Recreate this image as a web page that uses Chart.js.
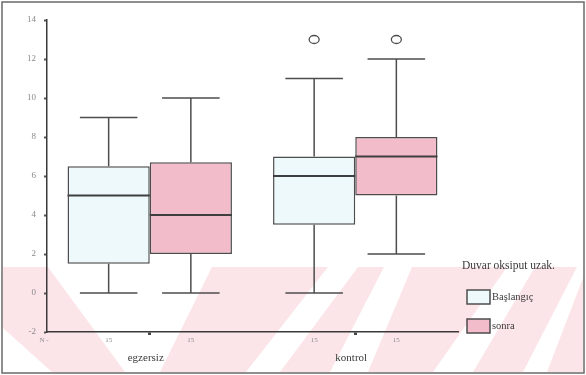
<!DOCTYPE html>
<html>
<head>
<meta charset="utf-8">
<script src="https://cdn.jsdelivr.net/npm/chart.js@4"></script>
<style>
  html, body { margin: 0; padding: 0; background: #ffffff; }
  #wrap { width: 586px; height: 375px; position: relative; }
</style>
</head>
<body>
<div id="wrap"><canvas id="c"></canvas></div>
<script>
// Groups and series
const categories = ['egzersiz', 'kontrol'];
const seriesNames = ['Başlangıç', 'sonra'];
const legendTitle = 'Duvar oksiput uzak.';

// Five-number summaries per group, plus outliers and group sizes
const baslangicMin = [0, 0];
const baslangicQ1 = [1.5, 3.5];
const baslangicMedian = [5, 6];
const baslangicQ3 = [6.5, 7];
const baslangicMax = [9, 11];
const baslangicOutliers = [[], [13]];
const baslangicN = [15, 15];

const sonraMin = [0, 2];
const sonraQ1 = [2, 5];
const sonraMedian = [4, 7];
const sonraQ3 = [6.7, 8];
const sonraMax = [10, 12];
const sonraOutliers = [[], [13]];
const sonraN = [15, 15];

// Value axis
const yMin = -2;
const yMax = 14;
const yStep = 2;

const SERIF = "'Liberation Serif', 'DejaVu Serif', serif";
const EDGE = '#4d4d4d';

function makeDataset(label, q1, q3, med, lo, hi, out, n, fill) {
  return {
    label: label,
    data: q1.map((v, i) => [v, q3[i]]),
    stats: { median: med, min: lo, max: hi, outliers: out, n: n },
    backgroundColor: fill,
    borderColor: EDGE,
    borderWidth: 1.5,
    borderSkipped: false,
    barPercentage: 1.0,
    categoryPercentage: 0.8
  };
}

// Faint striped backdrop along the bottom of the sheet, and the sheet frame
const backdrop = {
  id: 'backdrop',
  beforeDraw(chart) {
    const ctx = chart.ctx;
    ctx.save();
    ctx.fillStyle = '#ffffff';
    ctx.fillRect(0, 0, chart.width, chart.height);
    ctx.fillStyle = '#fce5e9';
    ctx.fillRect(3, 267, 580, 105);
    ctx.fillStyle = '#ffffff';
    const gaps = [
      [[3, 328], [3, 372], [52, 372]],
      [[48, 267], [212, 267], [160, 372], [125, 372]],
      [[328, 267], [358, 267], [280, 372], [246, 372]],
      [[384, 267], [412, 267], [368, 372], [330, 372]],
      [[507, 267], [535, 267], [473, 372], [433, 372]],
      [[577, 267], [583, 267], [583, 278], [547, 372], [523, 372]]
    ];
    gaps.forEach(p => {
      ctx.beginPath();
      ctx.moveTo(p[0][0], p[0][1]);
      for (let k = 1; k < p.length; k++) ctx.lineTo(p[k][0], p[k][1]);
      ctx.closePath();
      ctx.fill();
    });
    ctx.restore();
  },
  afterDraw(chart) {
    const ctx = chart.ctx;
    ctx.save();
    ctx.strokeStyle = '#6a6a6a';
    ctx.lineWidth = 1.5;
    ctx.strokeRect(2, 2, 582, 371);
    ctx.restore();
  }
};

// Whiskers, medians and outliers on top of the floating boxes
const boxParts = {
  id: 'boxParts',
  afterDatasetsDraw(chart) {
    const ctx = chart.ctx;
    const ys = chart.scales.y;
    ctx.save();
    ctx.strokeStyle = EDGE;
    chart.data.datasets.forEach((ds, di) => {
      const meta = chart.getDatasetMeta(di);
      meta.data.forEach((bar, i) => {
        const cx = bar.x;
        const w = bar.width;
        const half = w / 2;
        const cap = w * 0.35;
        const st = ds.stats;
        const pQ1 = ys.getPixelForValue(ds.data[i][0]);
        const pQ3 = ys.getPixelForValue(ds.data[i][1]);
        const pLo = ys.getPixelForValue(st.min[i]);
        const pHi = ys.getPixelForValue(st.max[i]);
        const pMed = ys.getPixelForValue(st.median[i]);
        ctx.lineWidth = 1.5;
        ctx.beginPath();
        ctx.moveTo(cx, pQ1); ctx.lineTo(cx, pLo);
        ctx.moveTo(cx - cap, pLo); ctx.lineTo(cx + cap, pLo);
        ctx.moveTo(cx, pQ3); ctx.lineTo(cx, pHi);
        ctx.moveTo(cx - cap, pHi); ctx.lineTo(cx + cap, pHi);
        ctx.stroke();
        ctx.lineWidth = 2.2;
        ctx.strokeStyle = '#3f3f3f';
        ctx.beginPath();
        ctx.moveTo(cx - half, pMed); ctx.lineTo(cx + half, pMed);
        ctx.stroke();
        ctx.strokeStyle = EDGE;
        ctx.lineWidth = 1.3;
        st.outliers[i].forEach(v => {
          const py = ys.getPixelForValue(v);
          ctx.beginPath();
          ctx.ellipse(cx, py, 5, 4, 0, 0, Math.PI * 2);
          ctx.stroke();
        });
      });
    });
    ctx.restore();
  },
  afterDraw(chart) {
    const ctx = chart.ctx;
    const area = chart.chartArea;
    ctx.save();
    // group sizes under each box
    ctx.fillStyle = '#8a8a8a';
    ctx.font = '7px ' + SERIF;
    ctx.textAlign = 'center';
    ctx.textBaseline = 'middle';
    ctx.fillText('N -', area.left - 3, area.bottom + 8);
    chart.data.datasets.forEach((ds, di) => {
      const meta = chart.getDatasetMeta(di);
      meta.data.forEach((bar, i) => {
        ctx.fillText(String(ds.stats.n[i]), bar.x, area.bottom + 8);
      });
    });
    // legend
    const lx = 467;
    ctx.fillStyle = '#3a3a3a';
    ctx.textAlign = 'left';
    ctx.font = '11.5px ' + SERIF;
    ctx.fillText(legendTitle, lx - 5, 266);
    ctx.font = '10.5px ' + SERIF;
    chart.data.datasets.forEach((ds, di) => {
      const top = 290 + di * 29;
      ctx.fillStyle = ds.backgroundColor;
      ctx.fillRect(lx, top, 23, 14);
      ctx.strokeStyle = EDGE;
      ctx.lineWidth = 1.5;
      ctx.strokeRect(lx, top, 23, 14);
      ctx.fillStyle = '#3a3a3a';
      ctx.fillText(ds.label, lx + 25, top + 7);
    });
    ctx.restore();
  }
};

const chart = new Chart(document.getElementById('c'), {
  type: 'bar',
  data: {
    labels: categories,
    datasets: [
      makeDataset(seriesNames[0], baslangicQ1, baslangicQ3, baslangicMedian, baslangicMin, baslangicMax, baslangicOutliers, baslangicN, '#eef9fb'),
      makeDataset(seriesNames[1], sonraQ1, sonraQ3, sonraMedian, sonraMin, sonraMax, sonraOutliers, sonraN, '#f2bccb')
    ]
  },
  options: {
    responsive: true,
    maintainAspectRatio: false,
    devicePixelRatio: 1,
    animation: false,
    layout: { padding: { left: 0, right: 128, top: 20, bottom: 3 } },
    plugins: {
      legend: { display: false },
      tooltip: { enabled: false },
      title: { display: false }
    },
    scales: {
      x: {
        offset: true,
        grid: {
          display: true,
          drawOnChartArea: false,
          drawTicks: true,
          tickLength: 3,
          tickWidth: 3,
          tickColor: '#444',
          offset: false
        },
        border: { display: true, color: '#3a3a3a', width: 1.5 },
        ticks: {
          color: '#3a3a3a',
          font: { family: SERIF, size: 11 },
          padding: 17,
          labelOffset: -4,
          maxRotation: 0
        },
        afterFit(scale) { scale.height = 40; }
      },
      y: {
        min: yMin,
        max: yMax,
        grid: {
          display: true,
          drawOnChartArea: false,
          drawTicks: true,
          tickLength: 3,
          tickWidth: 2,
          tickColor: '#555'
        },
        border: { display: true, color: '#3a3a3a', width: 1.5 },
        ticks: {
          stepSize: yStep,
          color: '#8a8a8a',
          font: { family: SERIF, size: 9 },
          padding: 8
        },
        afterFit(scale) { scale.width = 47; }
      }
    }
  },
  plugins: [backdrop, boxParts]
});
</script>
</body>
</html>
